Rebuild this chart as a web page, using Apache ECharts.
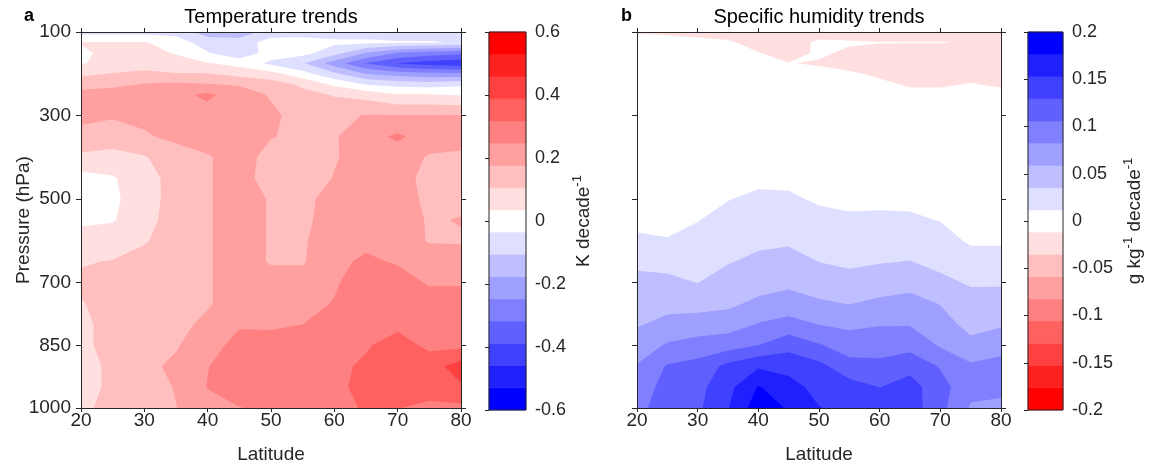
<!DOCTYPE html>
<html>
<head>
<meta charset="utf-8">
<title>Temperature and specific humidity trends</title>
<script src="https://cdn.jsdelivr.net/npm/echarts@6.0.0/dist/echarts.min.js"></script>
<style>
  html, body { margin: 0; padding: 0; background: #fff; }
  #chart { width: 1151px; height: 469px; }
</style>
</head>
<body>
<div id="chart"></div>
<script>
  // grid of the trend fields
  const latitude = [20, 25, 30, 35, 40, 45, 50, 55, 60, 65, 70, 75, 80];
  const pressure = [100, 125, 150, 175, 200, 225, 250, 300, 350, 400, 450, 500,
    550, 600, 650, 700, 750, 800, 850, 900, 950, 1000];

  // K decade-1, one row per pressure level (top to bottom), one column per latitude
  const tempTrend = [
    [-0.06, -0.06, -0.06, -0.06, -0.14, -0.14, -0.08, -0.07, -0.07, -0.07, -0.07, -0.07, -0.07],
    [0.04, 0.04, 0.04, 0.00, -0.07, -0.08, 0.00, 0.00, -0.02, -0.02, -0.03, -0.03, -0.04],
    [0.02, 0.06, 0.06, 0.03, -0.03, -0.09, 0.00, -0.01, -0.08, -0.18, -0.25, -0.28, -0.30],
    [0.03, 0.06, 0.06, 0.06, 0.04, 0.01, -0.05, -0.10, -0.21, -0.32, -0.39, -0.42, -0.44],
    [0.09, 0.11, 0.13, 0.11, 0.11, 0.08, 0.06, -0.01, -0.09, -0.18, -0.21, -0.23, -0.23],
    [0.15, 0.16, 0.18, 0.19, 0.18, 0.17, 0.14, 0.09, 0.02, -0.04, -0.06, -0.07, -0.05],
    [0.20, 0.21, 0.21, 0.23, 0.26, 0.21, 0.17, 0.13, 0.10, 0.08, 0.04, 0.04, 0.03],
    [0.19, 0.18, 0.19, 0.21, 0.22, 0.21, 0.19, 0.15, 0.16, 0.18, 0.18, 0.18, 0.18],
    [0.16, 0.16, 0.17, 0.19, 0.21, 0.21, 0.18, 0.16, 0.17, 0.22, 0.26, 0.21, 0.21],
    [0.09, 0.07, 0.10, 0.15, 0.17, 0.21, 0.15, 0.14, 0.17, 0.21, 0.21, 0.17, 0.16],
    [0.01, 0.03, 0.07, 0.14, 0.17, 0.21, 0.14, 0.14, 0.18, 0.21, 0.21, 0.15, 0.15],
    [0.00, 0.02, 0.08, 0.13, 0.17, 0.21, 0.17, 0.16, 0.20, 0.22, 0.21, 0.16, 0.16],
    [0.02, 0.03, 0.08, 0.14, 0.17, 0.21, 0.17, 0.16, 0.21, 0.21, 0.21, 0.17, 0.18],
    [0.07, 0.07, 0.10, 0.14, 0.17, 0.21, 0.17, 0.17, 0.21, 0.23, 0.22, 0.17, 0.17],
    [0.10, 0.11, 0.13, 0.14, 0.17, 0.21, 0.17, 0.17, 0.23, 0.26, 0.24, 0.23, 0.21],
    [0.12, 0.14, 0.14, 0.16, 0.17, 0.21, 0.21, 0.21, 0.24, 0.28, 0.28, 0.24, 0.24],
    [0.10, 0.14, 0.14, 0.16, 0.17, 0.21, 0.22, 0.23, 0.25, 0.28, 0.30, 0.28, 0.28],
    [0.09, 0.13, 0.14, 0.16, 0.19, 0.24, 0.235, 0.247, 0.27, 0.28, 0.30, 0.30, 0.30],
    [0.09, 0.13, 0.14, 0.17, 0.22, 0.27, 0.28, 0.28, 0.28, 0.31, 0.35, 0.30, 0.30],
    [0.08, 0.12, 0.16, 0.19, 0.245, 0.28, 0.28, 0.28, 0.30, 0.33, 0.35, 0.36, 0.42],
    [0.08, 0.12, 0.15, 0.18, 0.25, 0.28, 0.28, 0.28, 0.30, 0.34, 0.35, 0.35, 0.38],
    [0.09, 0.13, 0.14, 0.175, 0.22, 0.245, 0.26, 0.28, 0.28, 0.33, 0.32, 0.30, 0.30]
  ];

  // g kg-1 decade-1, same layout
  const humTrend = [
    [-0.014, -0.016, -0.019, -0.021, -0.024, -0.024, -0.024, -0.024, -0.021, -0.021, -0.021, -0.021, -0.021],
    [0, -0.002, -0.005, -0.009, -0.019, -0.024, -0.007, -0.009, -0.011, -0.011, -0.011, -0.013, -0.013],
    [0, 0, 0, -0.002, -0.011, -0.021, -0.008, -0.016, -0.019, -0.021, -0.021, -0.021, -0.024],
    [0, 0, 0, 0, -0.005, -0.011, -0.014, -0.019, -0.021, -0.021, -0.021, -0.020, -0.021],
    [0, 0, 0, 0, 0, -0.002, -0.005, -0.009, -0.015, -0.019, -0.019, -0.016, -0.018],
    [0, 0, 0, 0, 0, 0, 0, -0.002, -0.008, -0.014, -0.014, -0.011, -0.014],
    [0, 0, 0, 0, 0, 0, 0, 0, -0.002, -0.007, -0.007, -0.005, -0.007],
    [0, 0, 0, 0, 0, 0, 0, 0, 0, -0.002, -0.002, -0.001, -0.002],
    [0, 0, 0, 0, 0, 0, 0, 0, 0, 0, 0, 0, 0],
    [0, 0, 0, 0.002, 0.004, 0.004, 0.002, 0, 0, 0, 0, 0, 0],
    [0, 0, 0.001, 0.005, 0.007, 0.007, 0.004, 0.002, 0.002, 0.002, 0.001, 0, 0],
    [0.002, 0.002, 0.005, 0.011, 0.016, 0.015, 0.009, 0.007, 0.007, 0.007, 0.005, 0.002, 0.002],
    [0.007, 0.006, 0.011, 0.019, 0.024, 0.024, 0.018, 0.015, 0.016, 0.015, 0.011, 0.005, 0.005],
    [0.015, 0.013, 0.019, 0.026, 0.031, 0.032, 0.026, 0.024, 0.025, 0.026, 0.020, 0.009, 0.009],
    [0.031, 0.028, 0.027, 0.034, 0.040, 0.044, 0.035, 0.032, 0.034, 0.036, 0.029, 0.021, 0.021],
    [0.041, 0.041, 0.035, 0.045, 0.049, 0.054, 0.048, 0.042, 0.047, 0.052, 0.041, 0.033, 0.033],
    [0.049, 0.052, 0.051, 0.054, 0.064, 0.069, 0.062, 0.058, 0.064, 0.066, 0.058, 0.044, 0.045],
    [0.057, 0.065, 0.069, 0.072, 0.084, 0.091, 0.082, 0.078, 0.081, 0.081, 0.068, 0.052, 0.056],
    [0.069, 0.085, 0.092, 0.096, 0.106, 0.122, 0.108, 0.094, 0.096, 0.098, 0.080, 0.065, 0.075],
    [0.084, 0.108, 0.114, 0.136, 0.150, 0.144, 0.136, 0.115, 0.112, 0.122, 0.104, 0.086, 0.089],
    [0.092, 0.115, 0.122, 0.146, 0.178, 0.163, 0.144, 0.139, 0.129, 0.139, 0.115, 0.089, 0.087],
    [0.099, 0.118, 0.125, 0.152, 0.190, 0.174, 0.154, 0.146, 0.141, 0.141, 0.113, 0.080, 0.078]
  ];

  const pressureTicks = [100, 300, 500, 700, 850, 1000];
  const tempRange = [-0.6, 0.6];
  const humRange = [-0.2, 0.2];
  const bandCount = 17;

  // low -> high for the temperature map, humidity uses it reversed
  const bwr = ['#0000FF', '#2020FF', '#4040FF', '#6060FF', '#8080FF', '#9F9FFF', '#BFBFFF', '#DFDFFF',
    '#FFFFFF', '#FFDFDF', '#FFBFBF', '#FF9F9F', '#FF8080', '#FF6060', '#FF4040', '#FF2020', '#FF0000'];
  const rwb = bwr.slice().reverse();

  const ink = '#262626';
  const font = 'Liberation Sans, Arial, Helvetica, sans-serif';

  function bandEdges(range) {
    const out = [];
    for (let k = 0; k <= bandCount; k++) out.push(range[0] + k * (range[1] - range[0]) / bandCount);
    return out;
  }
  const tempEdges = bandEdges(tempRange);
  const humEdges = bandEdges(humRange);

  // filled contours: every band k paints the region where value >= lower edge of band k
  function contourRender(field, edges, colors) {
    return function (params, api) {
      const k = api.value(2);
      const t = k === 0 ? -Infinity : edges[k];
      const px = pressure.map(p => latitude.map(l => api.coord([l, p])));
      let d = '';
      for (let i = 0; i < pressure.length - 1; i++) {
        for (let j = 0; j < latitude.length - 1; j++) {
          const c = [[i, j], [i, j + 1], [i + 1, j + 1], [i + 1, j]];
          const vs = c.map(q => field[q[0]][q[1]]);
          if (vs.every(v => v < t)) continue;
          const poly = [];
          for (let n = 0; n < 4; n++) {
            const m = (n + 1) % 4;
            const pa = px[c[n][0]][c[n][1]];
            const pb = px[c[m][0]][c[m][1]];
            const va = vs[n], vb = vs[m];
            if (va >= t) poly.push(pa);
            if ((va >= t) !== (vb >= t)) {
              const f = (t - va) / (vb - va);
              poly.push([pa[0] + f * (pb[0] - pa[0]), pa[1] + f * (pb[1] - pa[1])]);
            }
          }
          d += 'M' + poly.map(q => q[0].toFixed(2) + ' ' + q[1].toFixed(2)).join('L') + 'Z';
        }
      }
      if (!d) return null;
      return { type: 'path', shape: { pathData: d }, style: { fill: colors[k] } };
    };
  }

  function colorbarRender(edges, colors) {
    return function (params, api) {
      const k = api.value(2);
      if (k === bandCount) {
        const a = api.coord([0, edges[bandCount]]);
        const b = api.coord([1, edges[0]]);
        return { type: 'rect', shape: { x: a[0], y: a[1], width: b[0] - a[0], height: b[1] - a[1] },
          style: { fill: 'none', stroke: ink, lineWidth: 1 }, z2: 10 };
      }
      const a = api.coord([0, edges[k + 1]]);
      const b = api.coord([1, edges[k]]);
      return { type: 'rect', shape: { x: a[0], y: a[1], width: b[0] - a[0], height: b[1] - a[1] },
        style: { fill: colors[k], stroke: colors[k], lineWidth: 0.6 } };
    };
  }

  const txt = { fontSize: 19, color: ink, fontFamily: font };
  const plain = v => String(v);

  function latAxis(grid, pos, labels) {
    return {
      type: 'value', gridIndex: grid, position: pos, min: 20, max: 80, interval: 10, z: 5,
      axisLine: { show: true, onZero: false, lineStyle: { color: ink, width: 1 } },
      axisTick: { show: true, length: 4, lineStyle: { color: ink } },
      axisLabel: Object.assign({ show: labels, margin: 3, formatter: plain }, txt),
      splitLine: { show: false },
      name: labels ? 'Latitude' : '', nameLocation: 'middle', nameGap: 37,
      nameMoveOverlap: false, nameTextStyle: txt
    };
  }

  function presAxis(grid, pos, labels, name) {
    return {
      type: 'value', gridIndex: grid, position: pos, min: 100, max: 1000, inverse: true, z: 5,
      axisLine: { show: true, onZero: false, lineStyle: { color: ink, width: 1 } },
      axisTick: { show: true, length: 5, customValues: pressureTicks, lineStyle: { color: ink } },
      axisLabel: Object.assign({ show: labels, margin: 10, customValues: pressureTicks, formatter: plain }, txt),
      splitLine: { show: false },
      name: name || '', nameLocation: 'middle', nameRotate: 90, nameGap: 48,
      nameMoveOverlap: false, nameTextStyle: txt
    };
  }

  function barAxisX(grid) {
    return { type: 'value', gridIndex: grid, min: 0, max: 1, show: false };
  }

  function barAxisY(grid, range, step, name, gap) {
    return {
      type: 'value', gridIndex: grid, position: 'right', min: range[0], max: range[1], interval: step, z: 5,
      axisLine: { show: false },
      axisTick: { show: true, inside: true, length: 4, lineStyle: { color: ink } },
      axisLabel: { margin: 9, fontSize: 18, color: ink, fontFamily: font },
      splitLine: { show: false },
      name: name, nameLocation: 'middle', nameRotate: 90, nameGap: gap, nameMoveOverlap: false,
      nameTextStyle: {
        color: ink, fontFamily: font,
        rich: {
          a: { fontSize: 19, lineHeight: 26, color: ink, fontFamily: font },
          s: { fontSize: 13, lineHeight: 15, verticalAlign: 'top', color: ink, fontFamily: font }
        }
      }
    };
  }

  const levelData = bwr.map((c, k) => [20, 100, k]);
  const barData = bwr.map((c, k) => [0, 0, k]).concat([[0, 0, bandCount]]);

  const chart = echarts.init(document.getElementById('chart'), null, { renderer: 'canvas' });
  chart.setOption({
    animation: false,
    backgroundColor: '#fff',
    grid: [
      { left: 81, top: 32, width: 380, height: 378 },
      { left: 489, top: 32, width: 37, height: 378 },
      { left: 637, top: 32, width: 364, height: 378 },
      { left: 1028, top: 32, width: 35, height: 378 }
    ],
    xAxis: [
      latAxis(0, 'bottom', true),
      latAxis(0, 'top', false),
      barAxisX(1),
      latAxis(2, 'bottom', true),
      latAxis(2, 'top', false),
      barAxisX(3)
    ],
    yAxis: [
      presAxis(0, 'left', true, 'Pressure (hPa)'),
      presAxis(0, 'right', false),
      barAxisY(1, tempRange, 0.2, '{a|K decade}{s|-1}', 45),
      presAxis(2, 'left', false),
      presAxis(2, 'right', false),
      barAxisY(3, humRange, 0.05, '{a|g kg}{s|-1}{a| decade}{s|-1}', 59)
    ],
    graphic: [
      { type: 'text', x: 271, y: 17, style: { text: 'Temperature trends', fontSize: 20, fontFamily: font, fill: '#000', align: 'center', verticalAlign: 'middle' } },
      { type: 'text', x: 819, y: 17, style: { text: 'Specific humidity trends', fontSize: 20, fontFamily: font, fill: '#000', align: 'center', verticalAlign: 'middle' } },
      { type: 'text', x: 24, y: 16, style: { text: 'a', fontSize: 18, fontWeight: 'bold', fontFamily: font, fill: '#000', align: 'left', verticalAlign: 'middle' } },
      { type: 'text', x: 621, y: 16, style: { text: 'b', fontSize: 18, fontWeight: 'bold', fontFamily: font, fill: '#000', align: 'left', verticalAlign: 'middle' } }
    ],
    series: [
      {
        type: 'custom', xAxisIndex: 0, yAxisIndex: 0, silent: true, clip: true,
        renderItem: contourRender(tempTrend, tempEdges, bwr), data: levelData
      },
      {
        type: 'custom', xAxisIndex: 2, yAxisIndex: 2, silent: true,
        renderItem: colorbarRender(tempEdges, bwr), data: barData
      },
      {
        type: 'custom', xAxisIndex: 3, yAxisIndex: 3, silent: true, clip: true,
        renderItem: contourRender(humTrend, humEdges, rwb), data: levelData
      },
      {
        type: 'custom', xAxisIndex: 5, yAxisIndex: 5, silent: true,
        renderItem: colorbarRender(humEdges, rwb), data: barData
      }
    ]
  });
  window.addEventListener('resize', function () { chart.resize(); });
</script>
</body>
</html>
